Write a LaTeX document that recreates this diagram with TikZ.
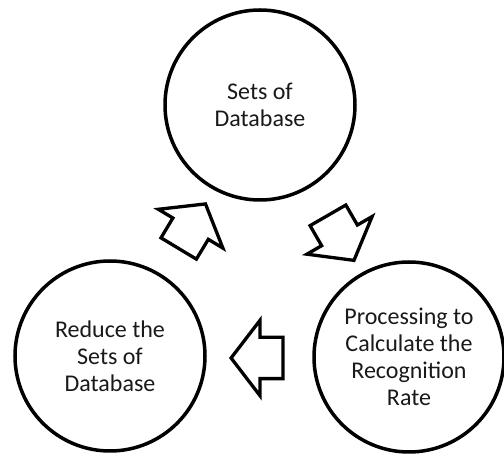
\documentclass[tikz,border=0pt]{standalone}
\usepackage{fontspec}
\setmainfont{Carlito}
\usepackage{tikz}
\usetikzlibrary{shapes.arrows}

\tikzset{
  stage/.style={circle,draw=black,line width=3.5pt,minimum size=190pt,
    inner sep=0pt,align=center,text=black!90,
    font=\fontsize{24}{27}\selectfont},
  blockarrow/.style={single arrow,draw=black,fill=white,line width=3.3pt,
    inner sep=0pt,text height=19pt,text depth=19pt,minimum height=52pt,
    single arrow head extend=17pt,single arrow tip angle=105}
}

\begin{document}
\begin{tikzpicture}[x=1pt,y=1pt]
\useasboundingbox (0,0) rectangle (504,455);
% the three stages
\node[stage] (db) at (260,350) {Sets of\\Database};
\node[stage] (reduce) at (110,99) {Reduce the\\Sets of\\Database};
\node[stage] (proc) at (409,98) {Processing to\\Calculate the\\Recognition\\Rate};
% block arrows between them
\node[blockarrow,rotate=-60] (dbproc) at (337,224) {};
\node[blockarrow,rotate=180] (procreduce) at (265,97) {};
\node[blockarrow,rotate=59] (reducedb) at (188,222) {};
\end{tikzpicture}
\end{document}
